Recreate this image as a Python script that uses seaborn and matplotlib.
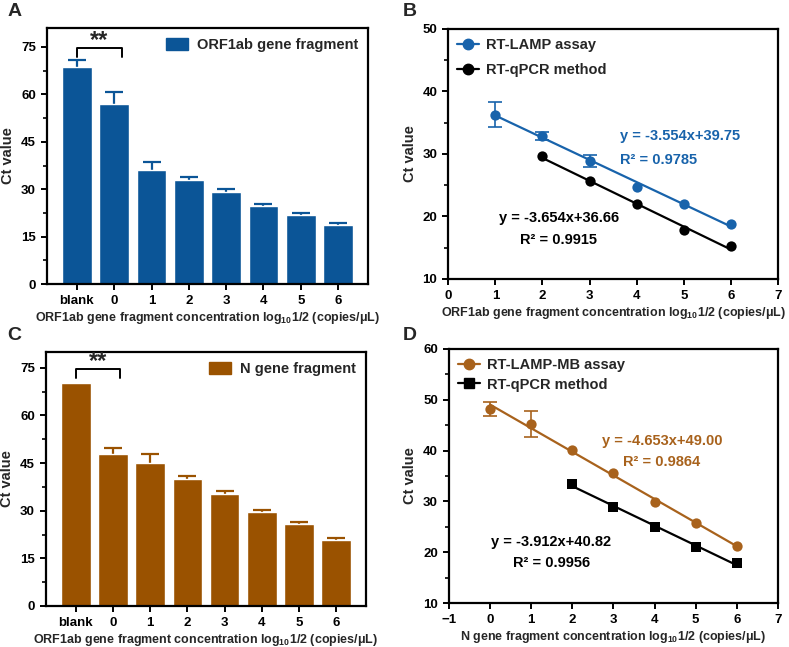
import numpy as np
import pandas as pd
import matplotlib
matplotlib.use("Agg")
import matplotlib.pyplot as plt
import seaborn as sns
from matplotlib.lines import Line2D
from matplotlib.patches import Patch
from matplotlib.ticker import MultipleLocator

# ---- data ----
categories = ["blank", "0", "1", "2", "3", "4", "5", "6"]
orf_means = [68.8, 57.0, 36.2, 32.9, 29.0, 24.6, 21.9, 18.7]
orf_err = [2.0, 3.8, 2.3, 1.1, 1.1, 0.6, 0.6, 0.7]
n_means = [70.1, 48.0, 45.0, 39.9, 35.3, 29.5, 25.9, 20.9]
n_err = [0.0, 1.7, 3.0, 0.9, 0.8, 0.6, 0.5, 0.6]

lamp_x = [1, 2, 3, 4, 5, 6]
lamp_y = [36.3, 32.9, 28.9, 24.7, 22.05, 18.8]
lamp_err = [2.0, 0.65, 0.95, 0.0, 0.0, 0.0]
qpcr1_x = [2, 3, 4, 5, 6]
qpcr1_y = [29.6, 25.6, 22.0, 17.8, 15.2]

mb_x = [0, 1, 2, 3, 4, 5, 6]
mb_y = [48.2, 45.2, 40.1, 35.5, 29.8, 25.8, 21.2]
mb_err = [1.4, 2.6, 0.0, 0.0, 0.0, 0.0, 0.0]
qpcr2_x = [2, 3, 4, 5, 6]
qpcr2_y = [33.4, 28.8, 25.0, 21.1, 17.8]

BLUE = "#0b5597"
BLUE_L = "#1863ab"
BROWN = "#9a5200"
BROWN_L = "#a8621c"

sns.set_style("ticks")
plt.rcParams["font.family"] = ["Liberation Sans", "DejaVu Sans"]
plt.rcParams["font.weight"] = "bold"
plt.rcParams["axes.labelweight"] = "bold"
plt.rcParams["mathtext.fontset"] = "custom"
plt.rcParams["mathtext.rm"] = "Liberation Sans:bold"
plt.rcParams["mathtext.bf"] = "Liberation Sans:bold"
plt.rcParams["axes.linewidth"] = 1.6
plt.rcParams["xtick.major.width"] = 1.4
plt.rcParams["ytick.major.width"] = 1.4
plt.rcParams["ytick.minor.width"] = 1.2
plt.rcParams["xtick.major.size"] = 4.5
plt.rcParams["ytick.major.size"] = 4.5
plt.rcParams["ytick.minor.size"] = 3
plt.rcParams["xtick.color"] = "black"
plt.rcParams["ytick.color"] = "black"
plt.rcParams["axes.edgecolor"] = "black"

TICK = 9.5
LAB = 10.5
XLAB = 9

fig = plt.figure(figsize=(7.89, 6.47), dpi=100)
axA = fig.add_axes([0.0596, 0.561, 0.4068, 0.3957])
axB = fig.add_axes([0.5682, 0.5688, 0.4178, 0.3864])
axC = fig.add_axes([0.0583, 0.0634, 0.4056, 0.3926])
axD = fig.add_axes([0.569, 0.068, 0.417, 0.3926])

xlab_orf = "ORF1ab gene fragment concentration log$_{10}$1/2 (copies/\u03bcL)"
xlab_n = "N gene fragment concentration log$_{10}$1/2 (copies/\u03bcL)"


def with_err(x, y, e):
    x, y, e = np.asarray(x, float), np.asarray(y, float), np.asarray(e, float)
    keep = e > 0
    return x[keep], y[keep], e[keep]


def bar_panel(ax, means, err, color, label, top, xlabel):
    df = pd.DataFrame({"conc": categories, "ct": means})
    sns.barplot(data=df, x="conc", y="ct", order=categories, color=color,
                saturation=1, width=0.8, errorbar=None, ax=ax, zorder=2)
    # lower half is hidden behind the bar, as in the original
    ex, ey, ee = with_err(np.arange(len(categories)), means, err)
    ax.errorbar(ex, ey, yerr=ee, fmt="none",
                ecolor=color, elinewidth=1.6, capsize=6.5, capthick=1.6, zorder=1)
    ax.set_xlim(-0.8, 7.8)
    ax.set_ylim(0, top)
    ax.yaxis.set_major_locator(MultipleLocator(15))
    ax.yaxis.set_minor_locator(MultipleLocator(7.5))
    ax.set_xlabel(xlabel, fontsize=XLAB, labelpad=2)
    ax.set_ylabel("Ct value", fontsize=LAB)
    ax.tick_params(labelsize=TICK)
    # significance bracket
    yb = means[0] + 4.5 if means[0] > 69 else 74.7
    ax.plot([0, 0, 1.2, 1.2], [yb - 2.9, yb, yb, yb - 2.9], color="black", lw=1.4)
    ax.text(0.6, yb + 2.4, "**", ha="center", va="center", fontsize=17,
            fontweight="bold")
    h = [Patch(facecolor=color, edgecolor=color)]
    ax.legend(h, [label], loc="upper right", frameon=False, fontsize=LAB,
              handlelength=1.5, handleheight=0.9, handletextpad=0.6,
              borderaxespad=0.3)


bar_panel(axA, orf_means, orf_err, BLUE, "ORF1ab gene fragment", 81, xlab_orf)
bar_panel(axC, n_means, n_err, BROWN, "N gene fragment", 80, xlab_orf)


def line_panel(ax, x1, y1, e1, c1, x2, y2, m2):
    sns.regplot(x=np.array(x1, float), y=np.array(y1), ci=None, ax=ax, color=c1,
                scatter_kws={"s": 55, "zorder": 3, "linewidths": 0, "alpha": 1},
                line_kws={"lw": 1.6, "zorder": 2})
    ex, ey, ee = with_err(x1, y1, e1)
    ax.errorbar(ex, ey, yerr=ee, fmt="none", ecolor=c1, elinewidth=1.2,
                capsize=5, capthick=1.2, zorder=2)
    sns.regplot(x=np.array(x2, float), y=np.array(y2), ci=None, ax=ax,
                color="black", marker=m2,
                scatter_kws={"s": 55 if m2 == "o" else 60, "zorder": 3,
                             "linewidths": 0, "alpha": 1},
                line_kws={"lw": 1.6, "zorder": 2})
    ax.set_ylabel("Ct value", fontsize=LAB)
    ax.tick_params(labelsize=TICK)
    ax.yaxis.set_major_locator(MultipleLocator(10))
    ax.yaxis.set_minor_locator(MultipleLocator(5))
    ax.xaxis.set_major_locator(MultipleLocator(1))
    h = [Line2D([], [], color=c1, marker="o", ms=7.5, lw=1.6),
         Line2D([], [], color="black", marker=m2, ms=7.5, lw=1.6)]
    return h


hB = line_panel(axB, lamp_x, lamp_y, lamp_err, BLUE_L, qpcr1_x, qpcr1_y, "o")
axB.set_xlim(0, 7)
axB.set_ylim(10, 50)
axB.set_xlabel(xlab_orf, fontsize=XLAB, labelpad=2)
axB.legend(hB, ["RT-LAMP assay", "RT-qPCR method"], loc="upper left",
           frameon=False, fontsize=LAB, handlelength=1.5, handletextpad=0.5,
           labelspacing=0.8, borderaxespad=0.2)
axB.text(3.65, 32.9, "y = -3.554x+39.75", color=BLUE_L, fontsize=LAB,
         fontweight="bold", ha="left", va="center")
axB.text(3.65, 29.0, "R\u00b2 = 0.9785", color=BLUE_L, fontsize=LAB,
         fontweight="bold", ha="left", va="center")
axB.text(2.35, 19.8, "y = -3.654x+36.66", color="black", fontsize=LAB,
         fontweight="bold", ha="center", va="center")
axB.text(2.35, 16.2, "R\u00b2 = 0.9915", color="black", fontsize=LAB,
         fontweight="bold", ha="center", va="center")

hD = line_panel(axD, mb_x, mb_y, mb_err, BROWN_L, qpcr2_x, qpcr2_y, "s")
axD.set_xlim(-1, 7)
axD.set_ylim(10, 60)
axD.set_xlabel(xlab_n, fontsize=XLAB, labelpad=2)
axD.legend(hD, ["RT-LAMP-MB assay", "RT-qPCR method"], loc="upper left",
           frameon=False, fontsize=LAB, handlelength=1.5, handletextpad=0.5,
           labelspacing=0.4, borderaxespad=0.2)
axD.text(4.18, 41.9, "y = -4.653x+49.00", color=BROWN_L, fontsize=LAB,
         fontweight="bold", ha="center", va="center")
axD.text(4.18, 37.8, "R\u00b2 = 0.9864", color=BROWN_L, fontsize=LAB,
         fontweight="bold", ha="center", va="center")
axD.text(1.49, 22.0, "y = -3.912x+40.82", color="black", fontsize=LAB,
         fontweight="bold", ha="center", va="center")
axD.text(1.49, 17.9, "R\u00b2 = 0.9956", color="black", fontsize=LAB,
         fontweight="bold", ha="center", va="center")

for ax in (axA, axB, axC, axD):
    for s in ax.spines.values():
        s.set_visible(True)
        s.set_linewidth(1.6)

for lab, x, y in [("A", 0.009, 0.995), ("B", 0.511, 0.995),
                  ("C", 0.009, 0.495), ("D", 0.511, 0.495)]:
    fig.text(x, y, lab, fontsize=14, fontweight="bold", ha="left", va="top")

fig.savefig("out.png", dpi=100)
